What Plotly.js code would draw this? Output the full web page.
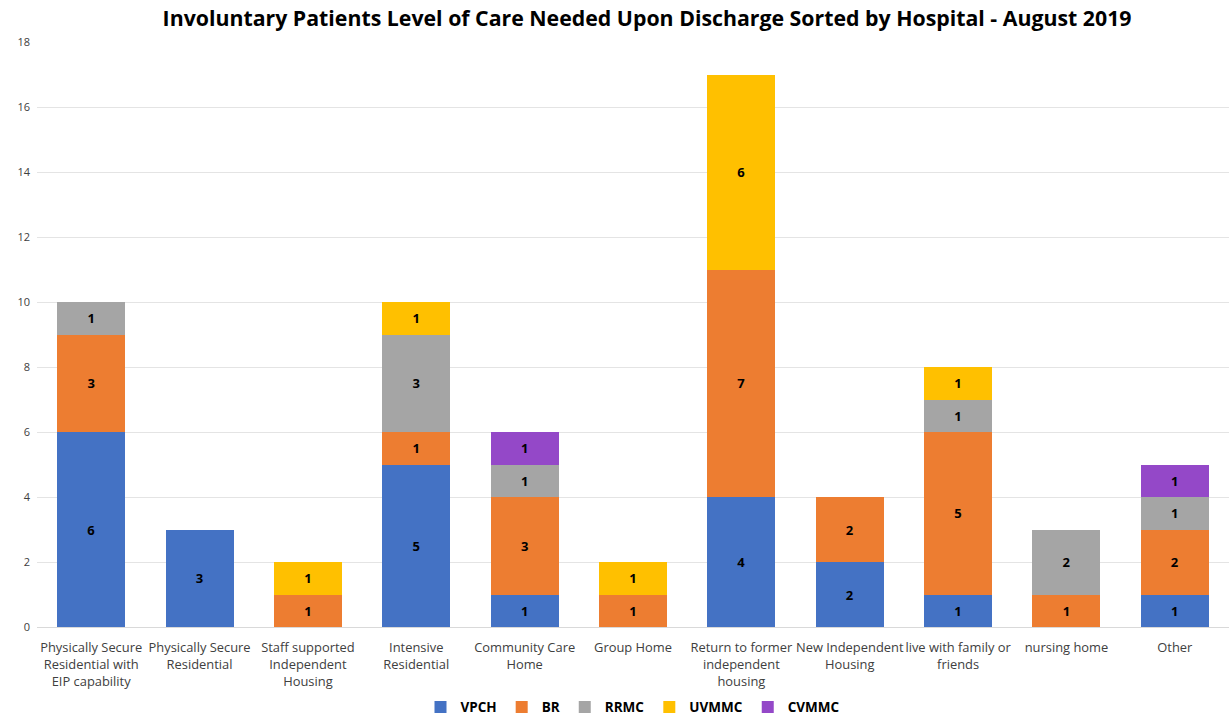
<!DOCTYPE html>
<html>
<head>
<meta charset="utf-8">
<script src="https://cdn.plot.ly/plotly-3.0.1.min.js"></script>
<style>
  html, body { margin: 0; padding: 0; background: #fff; }
  #chart { width: 1229px; height: 723px; }
</style>
</head>
<body>
<div id="chart"></div>
<script>
var categories = [
  'Physically Secure<br>Residential with<br>EIP capability',
  'Physically Secure<br>Residential',
  'Staff supported<br>Independent<br>Housing',
  'Intensive<br>Residential',
  'Community Care<br>Home',
  'Group Home',
  'Return to former<br>independent<br>housing',
  'New Independent<br>Housing',
  'live with family or<br>friends',
  'nursing home',
  'Other'
];

// null = no bar segment for that hospital
var vpch  = [6, 3, null, 5, 1, null, 4, 2, 1, null, 1];
var br    = [3, null, 1, 1, 3, 1, 7, 2, 5, 1, 2];
var rrmc  = [1, null, null, 3, 1, null, null, null, 1, 2, 1];
var uvmmc = [null, null, 1, 1, null, 1, 6, null, 1, null, null];
var cvmmc = [null, null, null, null, 1, null, null, null, null, null, 1];

var seriesNames = ['VPCH', 'BR', 'RRMC', 'UVMMC', 'CVMMC'];
var seriesValues = [vpch, br, rrmc, uvmmc, cvmmc];
var seriesColors = ['#4472C4', '#ED7D31', '#A5A5A5', '#FFC000', '#9448C8'];

var data = seriesNames.map(function (name, i) {
  return {
    type: 'bar',
    name: '<b>' + name + '</b>',
    x: categories,
    y: seriesValues[i],
    text: seriesValues[i].map(function (v) { return v === null ? '' : '<b>' + v + '</b>'; }),
    textposition: 'inside',
    insidetextanchor: 'middle',
    textangle: 0,
    textfont: { family: 'Open Sans, sans-serif', size: 13, color: '#000' },
    marker: { color: seriesColors[i] },
    hoverinfo: 'y'
  };
});

var layout = {
  barmode: 'stack',
  bargap: 0.373,
  width: 1229,
  height: 723,
  margin: { l: 37, r: 0, t: 42, b: 94 },
  paper_bgcolor: '#fff',
  plot_bgcolor: '#fff',
  font: { family: 'Open Sans, sans-serif', size: 12, color: '#404040' },
  title: {
    text: '<b>Involuntary Patients Level of Care Needed Upon Discharge Sorted by Hospital - August 2019</b>',
    font: { family: 'Open Sans, sans-serif', size: 21.3, color: '#000' },
    x: 0.5265, xanchor: 'center', y: 0.975, yanchor: 'middle'
  },
  xaxis: {
    tickfont: { size: 12.9, color: '#404040' },
    tickangle: 0,
    showline: true,
    linecolor: '#d9d9d9',
    ticks: '',
    ticklabelstandoff: 9
  },
  yaxis: {
    range: [0, 18],
    dtick: 2,
    showgrid: true,
    gridcolor: '#e4e4e4',
    zeroline: false,
    tickfont: { size: 11, color: '#404040' },
    ticks: '',
    ticklabelstandoff: 6
  },
  showlegend: true,
  legend: {
    orientation: 'h',
    x: 0.5, xanchor: 'center',
    y: -0.137, yanchor: 'middle',
    font: { size: 13.5, color: '#000' },
    itemwidth: 30,
    traceorder: 'normal'
  }
};

Plotly.newPlot('chart', data, layout, { displayModeBar: false });
</script>
</body>
</html>
